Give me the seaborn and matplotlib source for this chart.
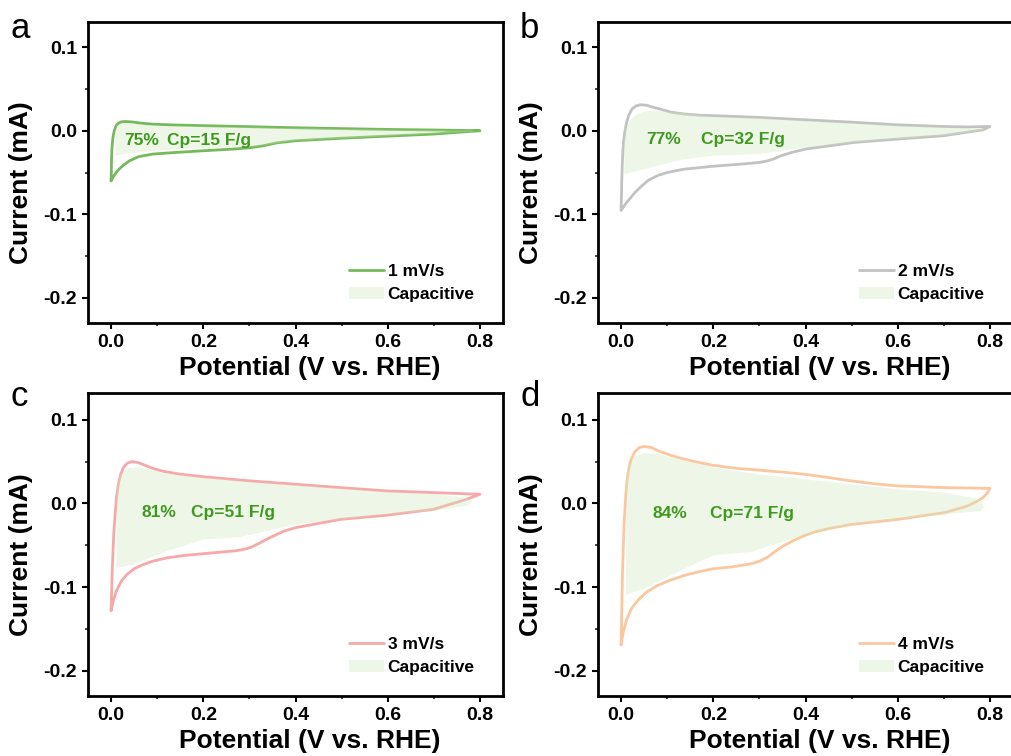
import matplotlib
matplotlib.use("Agg")
import matplotlib.pyplot as plt
import seaborn as sns
import numpy as np
from matplotlib.lines import Line2D
from matplotlib.patches import Patch
from matplotlib.ticker import MultipleLocator

# ---------------- data ----------------
scan_labels = ["1 mV/s", "2 mV/s", "3 mV/s", "4 mV/s"]
cap_percent = ["75%", "77%", "81%", "84%"]
cp_text = ["Cp=15 F/g", "Cp=32 F/g", "Cp=51 F/g", "Cp=71 F/g"]
panel_letters = ["a", "b", "c", "d"]

# CV loops (anodic 0 -> 0.8, then cathodic 0.8 -> 0), potential in V, current in mA
cv_a_v = [0, 0.0005, 0.001, 0.002, 0.004, 0.007, 0.011, 0.016, 0.022, 0.03, 0.045, 0.065, 0.09, 0.14, 0.2, 0.3, 0.4, 0.5, 0.6, 0.7, 0.8,
          0.75, 0.7, 0.6, 0.5, 0.4, 0.36, 0.33, 0.3, 0.265, 0.2, 0.14, 0.09, 0.06, 0.04, 0.025, 0.014, 0.006, 0.002, 0]
cv_a_i = [-0.060, -0.050, -0.035, -0.020, -0.008, 0.000, 0.006, 0.009, 0.0105, 0.011, 0.0105, 0.009, 0.0078, 0.0068, 0.006, 0.0048, 0.0035, 0.0025, 0.0015, 0.0008, 0.0,
          -0.002, -0.004, -0.0065, -0.009, -0.012, -0.0145, -0.018, -0.0205, -0.022, -0.024, -0.026, -0.028, -0.031, -0.036, -0.042, -0.048, -0.054, -0.058, -0.060]

cv_b_v = [0, 0.0008, 0.0015, 0.003, 0.005, 0.008, 0.012, 0.017, 0.024, 0.032, 0.042, 0.055, 0.07, 0.09, 0.11, 0.137, 0.17, 0.2, 0.296, 0.4, 0.506, 0.6, 0.7, 0.75, 0.8,
          0.785, 0.76, 0.7, 0.6, 0.506, 0.4, 0.37, 0.347, 0.33, 0.318, 0.3, 0.27, 0.2, 0.137, 0.1, 0.08, 0.06, 0.045, 0.03, 0.018, 0.009, 0.003, 0]
cv_b_i = [-0.095, -0.080, -0.060, -0.035, -0.015, -0.002, 0.010, 0.019, 0.026, 0.0295, 0.031, 0.0305, 0.028, 0.025, 0.022, 0.020, 0.0185, 0.018, 0.016, 0.013, 0.010, 0.007, 0.005, 0.0045, 0.005,
          0.001, -0.001, -0.006, -0.010, -0.014, -0.022, -0.026, -0.030, -0.034, -0.036, -0.038, -0.0395, -0.0425, -0.046, -0.050, -0.0535, -0.059, -0.066, -0.074, -0.082, -0.088, -0.093, -0.095]

cv_c_v = [0, 0.001, 0.002, 0.004, 0.006, 0.009, 0.012, 0.016, 0.021, 0.027, 0.035, 0.045, 0.058, 0.072, 0.09, 0.113, 0.15, 0.2, 0.301, 0.399, 0.497, 0.598, 0.699, 0.8,
          0.771, 0.699, 0.598, 0.497, 0.399, 0.375, 0.359, 0.34, 0.323, 0.305, 0.29, 0.27, 0.24, 0.2, 0.16, 0.121, 0.09, 0.07, 0.05, 0.034, 0.022, 0.012, 0.005, 0]
cv_c_i = [-0.128, -0.110, -0.090, -0.060, -0.035, -0.012, 0.008, 0.024, 0.035, 0.043, 0.048, 0.050, 0.049, 0.046, 0.042, 0.0385, 0.035, 0.032, 0.027, 0.023, 0.019, 0.015, 0.013, 0.011,
          0.005, -0.007, -0.014, -0.019, -0.029, -0.033, -0.037, -0.042, -0.047, -0.052, -0.0545, -0.0565, -0.058, -0.060, -0.062, -0.065, -0.069, -0.073, -0.078, -0.085, -0.093, -0.104, -0.116, -0.128]

cv_d_v = [0, 0.001, 0.002, 0.003, 0.005, 0.007, 0.01, 0.013, 0.017, 0.022, 0.03, 0.04, 0.05, 0.065, 0.085, 0.108, 0.13, 0.152, 0.199, 0.25, 0.296, 0.35, 0.397, 0.45, 0.499, 0.55, 0.6, 0.7, 0.8,
          0.795, 0.785, 0.77, 0.751, 0.701, 0.65, 0.6, 0.55, 0.499, 0.45, 0.42, 0.397, 0.375, 0.354, 0.335, 0.318, 0.30, 0.282, 0.26, 0.238, 0.199, 0.165, 0.137, 0.105, 0.079, 0.055, 0.036, 0.022, 0.012, 0.005, 0]
cv_d_i = [-0.169, -0.145, -0.115, -0.085, -0.050, -0.020, 0.008, 0.027, 0.042, 0.053, 0.062, 0.067, 0.068, 0.067, 0.062, 0.0575, 0.054, 0.051, 0.0456, 0.042, 0.040, 0.0375, 0.035, 0.031, 0.027, 0.0235, 0.021, 0.019, 0.018,
          0.013, 0.007, 0.002, -0.003, -0.011, -0.015, -0.019, -0.022, -0.025, -0.030, -0.034, -0.0385, -0.044, -0.050, -0.057, -0.064, -0.069, -0.072, -0.074, -0.076, -0.078, -0.082, -0.086, -0.092, -0.098, -0.106, -0.116, -0.126, -0.139, -0.153, -0.169]

# Capacitive-contribution regions (closed outlines)
cap_a_v = [0.009, 0.009, 0.012, 0.018, 0.027, 0.05, 0.09, 0.2, 0.4, 0.6, 0.786, 0.786, 0.6, 0.4, 0.31, 0.2, 0.09, 0.04, 0.009]
cap_a_i = [-0.030, 0.0, 0.005, 0.008, 0.009, 0.0085, 0.006, 0.005, 0.003, 0.0012, 0.0, -0.001, -0.0065, -0.012, -0.019, -0.021, -0.024, -0.027, -0.030]

cap_b_v = [0.007, 0.007, 0.01, 0.014, 0.022, 0.036, 0.05, 0.072, 0.137, 0.2, 0.3, 0.4, 0.5, 0.6, 0.7, 0.79, 0.79, 0.7, 0.6, 0.506, 0.4, 0.296, 0.2, 0.137, 0.05, 0.007]
cap_b_i = [-0.052, -0.010, 0.0, 0.006, 0.014, 0.020, 0.023, 0.024, 0.021, 0.017, 0.015, 0.012, 0.009, 0.006, 0.004, 0.002, 0.0, -0.006, -0.010, -0.014, -0.020, -0.028, -0.030, -0.034, -0.046, -0.052]

cap_c_v = [0.012, 0.012, 0.015, 0.02, 0.028, 0.038, 0.063, 0.113, 0.2, 0.3, 0.4, 0.5, 0.6, 0.7, 0.771, 0.785, 0.771, 0.699, 0.598, 0.497, 0.399, 0.337, 0.28, 0.2, 0.121, 0.048, 0.012]
cap_c_i = [-0.077, 0.023, 0.029, 0.034, 0.039, 0.0425, 0.043, 0.0365, 0.031, 0.026, 0.022, 0.018, 0.014, 0.011, 0.0068, 0.002, -0.003, -0.009, -0.013, -0.019, -0.025, -0.033, -0.040, -0.043, -0.057, -0.073, -0.077]

cap_d_v = [0.011, 0.011, 0.014, 0.019, 0.025, 0.035, 0.05, 0.079, 0.137, 0.2, 0.296, 0.397, 0.499, 0.6, 0.7, 0.78, 0.787, 0.78, 0.7, 0.6, 0.499, 0.397, 0.325, 0.282, 0.2, 0.137, 0.05, 0.011]
cap_d_i = [-0.109, 0.030, 0.041, 0.048, 0.053, 0.057, 0.060, 0.059, 0.051, 0.043, 0.035, 0.029, 0.023, 0.017, 0.013, 0.005, -0.005, -0.009, -0.013, -0.019, -0.025, -0.038, -0.050, -0.058, -0.062, -0.078, -0.102, -0.109]

# text positions (V, mA)
pct_x = [0.028, 0.054, 0.067, 0.069]
cp_x = [0.122, 0.174, 0.174, 0.193]
text_y = [-0.012, -0.011, -0.011, -0.012]

line_colors = ["#74b95a", "#c2c2c2", "#f7a8a8", "#fbc79e"]
cap_color = "#cfe8bb"
text_green = "#3e9a1e"

# ---------------- figure ----------------
sns.set_theme(style="ticks")
plt.rcParams["font.family"] = ["Liberation Sans", "DejaVu Sans"]
plt.rcParams["font.weight"] = "bold"
plt.rcParams["text.color"] = "black"
plt.rcParams["axes.labelcolor"] = "black"

fig = plt.figure(figsize=(10.11, 7.56), dpi=100)
W, H = 1011, 756
boxes = [(88, 22, 415, 301), (598, 22, 415, 301), (88, 393, 415, 303), (598, 393, 415, 303)]

cvs = [(cv_a_v, cv_a_i), (cv_b_v, cv_b_i), (cv_c_v, cv_c_i), (cv_d_v, cv_d_i)]
caps = [(cap_a_v, cap_a_i), (cap_b_v, cap_b_i), (cap_c_v, cap_c_i), (cap_d_v, cap_d_i)]
letter_pos = [(10, 38), (520, 38), (10, 406), (520, 406)]

for k in range(4):
    l, t, w, h = boxes[k]
    ax = fig.add_axes([l / W, 1 - (t + h) / H, w / W, h / H])
    v, i = cvs[k]
    sns.lineplot(x=v, y=i, sort=False, estimator=None, color=line_colors[k], lw=2.0, ax=ax)
    ax.lines[-1].set_solid_joinstyle("round")
    cv_, ci_ = caps[k]
    ax.fill(cv_, ci_, facecolor=cap_color, alpha=0.35, edgecolor="none", zorder=3)

    ax.set_xlim(-0.05, 0.85)
    ax.set_ylim(-0.23, 0.13 if k < 2 else 0.132)
    ax.xaxis.set_major_locator(MultipleLocator(0.2))
    ax.xaxis.set_minor_locator(MultipleLocator(0.1))
    ax.yaxis.set_major_locator(MultipleLocator(0.1))
    ax.yaxis.set_minor_locator(MultipleLocator(0.05))
    ax.tick_params(which="major", direction="out", length=4, width=1.5, labelsize=14,
                   top=False, right=False, pad=4, colors="black")
    ax.tick_params(which="minor", direction="out", length=2.5, width=1.2, top=False, right=False)
    ax.set_xticklabels([f"{x:.1f}" for x in ax.get_xticks()], fontweight="bold")
    ax.set_yticklabels([f"{y:.1f}" for y in ax.get_yticks()], fontweight="bold")
    for s in ax.spines.values():
        s.set_linewidth(2.0)
        s.set_color("black")
    ax.set_xlabel("Potential (V vs. RHE)", fontsize=19, fontweight="bold")
    ax.set_ylabel("Current (mA)", fontsize=19, fontweight="bold")
    ax.xaxis.set_label_coords(0.535, -33.0 / h)
    ax.yaxis.set_label_coords(-55.0 / w, 0.468)

    ax.text(pct_x[k], text_y[k], cap_percent[k], color=text_green, fontsize=12.5,
            fontweight="bold", va="center", ha="left", zorder=5)
    ax.text(cp_x[k], text_y[k], cp_text[k], color=text_green, fontsize=12.5,
            fontweight="bold", va="center", ha="left", zorder=5)

    handles = [Line2D([0], [0], color=line_colors[k], lw=2.0),
               Patch(facecolor=cap_color, alpha=0.35, edgecolor="none")]
    leg = ax.legend(handles, [scan_labels[k], "Capacitive"], loc="upper left",
                    bbox_to_anchor=(0.63, 0.195), frameon=False, fontsize=12.5,
                    handlelength=2.0, handletextpad=0.2, labelspacing=0.45, borderpad=0,
                    borderaxespad=0)
    for tx in leg.get_texts():
        tx.set_fontweight("bold")

    fig.text(letter_pos[k][0] / W, 1 - letter_pos[k][1] / H, panel_letters[k],
             fontsize=25, fontweight="normal", ha="left", va="baseline", color="black")

fig.savefig("out.png", dpi=100)
